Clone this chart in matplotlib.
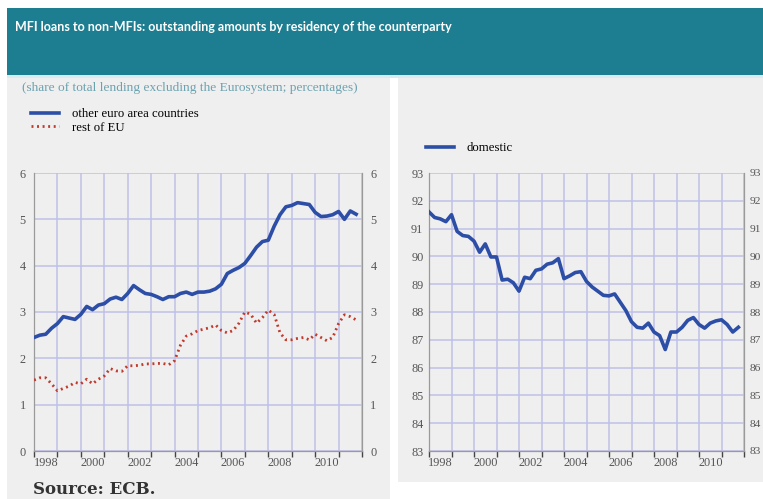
import numpy as np
import matplotlib.pyplot as plt
from matplotlib.patches import Rectangle

# quarterly observations, 1998 Q1 to 2011 Q4
quarters = np.arange(1998, 2012, 0.25)

other_euro_area = [
    2.45, 2.50, 2.52, 2.65,
    2.75, 2.90, 2.87, 2.84,
    2.95, 3.12, 3.05, 3.15,
    3.18, 3.28, 3.32, 3.27,
    3.40, 3.57, 3.48, 3.40,
    3.38, 3.33, 3.27, 3.33,
    3.33, 3.40, 3.43, 3.38,
    3.43, 3.43, 3.45, 3.50,
    3.60, 3.83, 3.90, 3.96,
    4.05, 4.22, 4.40, 4.52,
    4.55, 4.85, 5.10, 5.27,
    5.30, 5.36, 5.34, 5.32,
    5.15, 5.06, 5.07, 5.10,
    5.17, 5.00, 5.18, 5.11,
]

rest_of_eu = [
    1.53, 1.58, 1.58, 1.45,
    1.30, 1.35, 1.40, 1.48,
    1.45, 1.55, 1.45, 1.55,
    1.62, 1.78, 1.73, 1.72,
    1.84, 1.84, 1.85, 1.88,
    1.88, 1.89, 1.89, 1.86,
    1.95, 2.28, 2.48, 2.53,
    2.60, 2.63, 2.66, 2.72,
    2.60, 2.55, 2.60, 2.76,
    3.00, 2.95, 2.76, 2.88,
    3.04, 2.95, 2.55, 2.40,
    2.40, 2.43, 2.45, 2.40,
    2.52, 2.45, 2.38, 2.45,
    2.75, 2.94, 2.90, 2.83,
]

domestic = [
    91.60, 91.40, 91.35, 91.25,
    91.50, 90.90, 90.75, 90.72,
    90.55, 90.15, 90.45, 89.98,
    89.98, 89.15, 89.18, 89.05,
    88.75, 89.25, 89.20, 89.50,
    89.55, 89.72, 89.77, 89.92,
    89.20, 89.30, 89.42, 89.45,
    89.10, 88.90, 88.75, 88.60,
    88.58, 88.65, 88.35, 88.05,
    87.65, 87.45, 87.42, 87.60,
    87.28, 87.15, 86.65, 87.28,
    87.28, 87.45, 87.70, 87.80,
    87.55, 87.42, 87.60, 87.68,
    87.72, 87.55, 87.28, 87.45,
]

year_labels = ['1998', '2000', '2002', '2004', '2006', '2008', '2010']

TEAL = '#1c7e90'
PANEL = '#efefef'
GRID = '#c0c0e8'
BLUE = '#2c4ea6'
RED = '#c0392b'
TICK = '#555555'
SERIF = ['Liberation Serif', 'DejaVu Serif']

W, H = 763, 499
fig = plt.figure(figsize=(W / 100, H / 100), dpi=100)
fig.patch.set_facecolor('white')


def fig_box(x0, y0, x1, y1, **kw):
    # rectangle given in pixel coordinates from the top-left corner
    fig.add_artist(Rectangle((x0 / W, 1 - y1 / H), (x1 - x0) / W, (y1 - y0) / H,
                             transform=fig.transFigure, lw=0, **kw))


fig_box(7, 78, 390, 499, facecolor=PANEL, zorder=0)
fig_box(398, 78, 763, 482, facecolor=PANEL, zorder=0)
fig_box(7, 8, 763, 75, facecolor=TEAL, zorder=0)
fig_box(7, 75, 763, 78, facecolor='#d6ecf0', zorder=0)

fig.text(15 / W, 1 - 27 / H,
         'MFI loans to non-MFIs: outstanding amounts by residency of the counterparty',
         color='white', fontsize=9.0, fontweight='bold',
         family=['Lato', 'DejaVu Sans'], va='center', ha='left')

fig.text(22 / W, 1 - 88 / H,
         '(share of total lending excluding the Eurosystem; percentages)',
         color='#6aa2b0', fontsize=9.6, family=SERIF, va='center', ha='left')

fig.text(33 / W, 1 - 490 / H, 'Source: ECB.', color='#333333', fontsize=12,
         fontweight='bold', family=['DejaVu Serif'], va='center', ha='left')


def style_axes(ax, ylim, yticks, ypad=6, right_size=8.8):
    ax.set_facecolor(PANEL)
    ax.set_xlim(1998, 2012)
    ax.set_ylim(*ylim)

    # year boundaries get the ticks, labels sit in the middle of the year
    ax.set_xticks(np.arange(1998, 2013, 1))
    ax.set_xticklabels([])
    ax.set_xticks(np.arange(1998.5, 2011, 2), minor=True)
    ax.set_xticklabels(year_labels, minor=True)
    ax.tick_params(axis='x', which='major', direction='out', length=4,
                   color='#444444', width=1)
    ax.tick_params(axis='x', which='minor', length=0, pad=4,
                   labelsize=8.8, labelcolor=TICK)

    ax.set_yticks(yticks)
    ax.tick_params(axis='y', length=0, pad=ypad, labelsize=8.8,
                   labelcolor=TICK, labelleft=True, labelright=True)
    for t in ax.yaxis.get_major_ticks():
        t.label2.set_fontsize(right_size)
    for lab in ax.get_xticklabels(minor=True) + ax.get_yticklabels():
        lab.set_family(SERIF)

    ax.grid(True, which='major', color=GRID, lw=1.1)
    ax.set_axisbelow(True)
    for side in ('left', 'right', 'bottom'):
        ax.spines[side].set_color('#9a9a9a')
        ax.spines[side].set_linewidth(0.9)
    ax.spines['top'].set_visible(False)


# left panel: cross-border lending
ax1 = fig.add_axes([34 / W, 1 - 451 / H, 328 / W, 278 / H])
style_axes(ax1, (0, 6), range(0, 7))
ax1.plot(quarters, other_euro_area, color=BLUE, lw=2.6,
         label='other euro area countries', zorder=3)
ax1.plot(quarters, rest_of_eu, color=RED, lw=2.0, ls=(0, (0.7, 1.3)),
         label='rest of EU', zorder=3)
ax1.legend(loc='upper left', bbox_to_anchor=(31 / W, 1 - 108 / H),
           bbox_transform=fig.transFigure, frameon=False, handlelength=2.2,
           handletextpad=1.0, labelspacing=0.12, borderpad=0, borderaxespad=0,
           prop={'family': SERIF, 'size': 9.2})

# right panel: domestic lending
ax2 = fig.add_axes([429 / W, 1 - 451 / H, 315 / W, 278 / H])
style_axes(ax2, (83, 93), range(83, 94), ypad=4, right_size=8.2)
ax2.plot(quarters, domestic, color=BLUE, lw=2.6, label='domestic', zorder=3)
ax2.legend(loc='upper left', bbox_to_anchor=(426 / W, 1 - 142 / H),
           bbox_transform=fig.transFigure, frameon=False, handlelength=2.2,
           handletextpad=1.0, borderpad=0, borderaxespad=0,
           prop={'family': SERIF, 'size': 9.2})

fig.savefig('out.png', dpi=100, facecolor=fig.get_facecolor())
